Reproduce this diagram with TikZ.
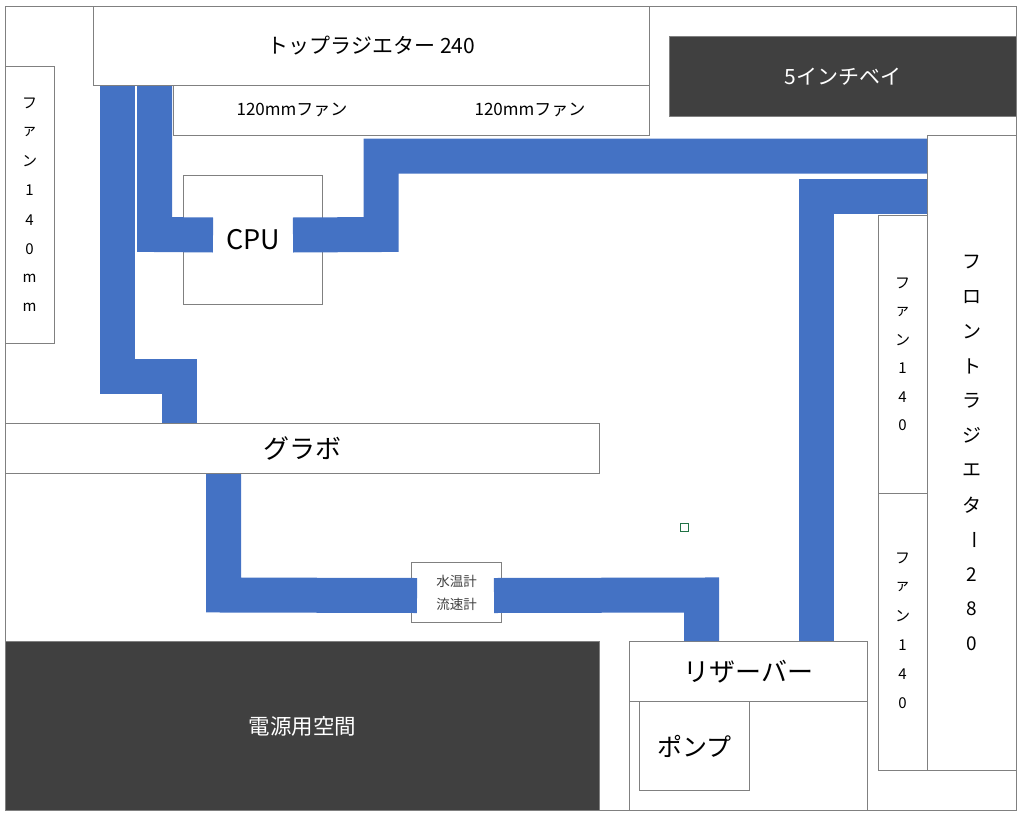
\documentclass[tikz,border=0pt]{standalone}
\usepackage{fontspec}
\setmainfont{Noto Sans CJK JP}
\usepackage{xcolor}
\usepackage{tikz}
\usetikzlibrary{positioning,shapes}

\definecolor{boxline}{RGB}{128,128,128}
\definecolor{tubeblue}{RGB}{68,114,196}
\definecolor{darkbox}{RGB}{64,64,64}
\definecolor{handlegreen}{RGB}{33,115,70}

\begin{document}
\begin{tikzpicture}[x=1pt, y=-1pt,
		box/.style={draw=boxline, line width=1pt, rectangle, inner sep=0pt, anchor=north west},
		darkpart/.style={box, fill=darkbox, text=white},
		tube/.style={draw=tubeblue, line width=35pt, line cap=butt, line join=miter},
		vtext/.style={inner sep=0pt, font=\fontsize{15}{18}\selectfont},
		bigtext/.style={font=\fontsize{26}{30}\selectfont}]
				\useasboundingbox (0,0) rectangle (1024,816);
				% Cadre du boîtier
				\node[box, minimum width=1011, minimum height=804] (case) at (5,6) {};
				
				% Haut : radiateur, ventilateurs, baie
				\node[box, minimum width=556, minimum height=79, font=\fontsize{21}{25}\selectfont] (toprad) at (93,6) {トップラジエター 240};
				\node[box, minimum width=476, minimum height=50] (topfans) at (173,85) {};
				\node[font=\fontsize{17}{20}\selectfont] (topfan1) at (292,110) {120mmファン};
				\node[font=\fontsize{17}{20}\selectfont] (topfan2) at (530,110) {120mmファン};
				\node[darkpart, minimum width=347, minimum height=80, font=\fontsize{21}{25}\selectfont] (bay) at (669,36) {5インチベイ};
				
				% Ventilateur arrière
				\node[box, minimum width=49, minimum height=277] (rearfan) at (5,66) {};
				\foreach \c [count=\i from 0] in {フ,ァ,ン,1,4,0,m,m}
					\node[vtext] (rearfan-\i) at (29.5, 103+29.2*\i) {\c};
				
				% CPU et carte graphique
				\node[box, minimum width=139, minimum height=129, font=\fontsize{27}{30}\selectfont] (cpu) at (183,175) {CPU};
				\node[box, minimum width=594, minimum height=50, bigtext] (gpu) at (5,423) {グラボ};
				\node[box, minimum width=90, minimum height=60, align=center, text=darkbox, font=\fontsize{13.5}{23}\selectfont] (meter) at (411,562) {水温計\\流速計};
				
				% Bas : alimentation, réservoir, pompe
				\node[darkpart, minimum width=594, minimum height=169, font=\fontsize{21.5}{25}\selectfont] (psu) at (5,641) {電源用空間};
				\node[box, minimum width=238, minimum height=60, bigtext] (res) at (629,641) {リザーバー};
				\node[box, minimum width=238, minimum height=109] (resbase) at (629,701) {};
				\node[box, minimum width=110, minimum height=89, font=\fontsize{25}{28}\selectfont] (pump) at (639,701) {ポンプ};
				
				% Avant : radiateur et ventilateurs
				\node[box, minimum width=89, minimum height=635] (frontrad) at (927,135) {};
				\node[box, minimum width=49, minimum height=278] (frontfan1) at (878,215) {};
				\node[box, minimum width=49, minimum height=277] (frontfan2) at (878,493) {};
				\foreach \c [count=\i from 0] in {フ,ァ,ン,1,4,0} {
					\node[vtext] (frontfan1-\i) at (902.5, 283+28.5*\i) {\c};
					\node[vtext] (frontfan2-\i) at (902.5, 558+29*\i) {\c};
				}
				\foreach \c/\r [count=\i from 0] in {フ/0,ロ/0,ン/0,ト/0,ラ/0,ジ/0,エ/0,タ/0,ー/-90,2/0,8/0,0/0}
					\node[vtext, font=\fontsize{19}{22}\selectfont, rotate=\r] (frontrad-\i) at (972, 262+34.7*\i) {\c};
				
				% Poignée de sélection
				\node[draw=handlegreen, line width=0.8pt, minimum size=8pt, inner sep=0pt] (handle) at (684,527) {};
				
				% Tuyaux
				\draw[tube] ([xshift=24pt]toprad.south west) -- (117,376) -- (179.5,376) -- ([xshift=174.5pt]gpu.north west);
				\draw[tube] ([xshift=61.5pt]toprad.south west) -- (154.5,234.5) -- ([xshift=30pt,yshift=5pt]cpu.west);
				\draw[tube] ([xshift=-30pt,yshift=5pt]cpu.east) -- (381,234.5) -- (381,156) -- ([yshift=-21pt]frontrad.north west);
				\draw[tube] ([yshift=-61.5pt]frontrad.north west) -- (816.5,196.5) -- ([xshift=187.5pt]res.north west);
				\draw[tube] ([xshift=218.5pt]gpu.south west) -- (223.5,595) -- ([xshift=6pt,yshift=-3pt]meter.west);
				\draw[tube] ([xshift=-8pt,yshift=-3pt]meter.east) -- (701.5,595) -- ([xshift=72.5pt]res.north west);
			\end{tikzpicture}
\end{document}
